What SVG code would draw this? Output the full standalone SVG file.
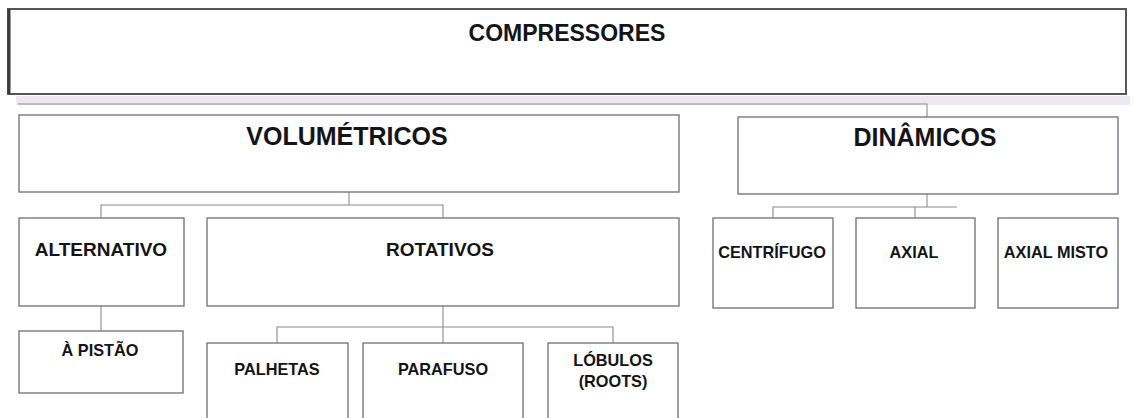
<svg xmlns="http://www.w3.org/2000/svg" width="1133" height="418" viewBox="0 0 1133 418">
  <style>
    .box { fill: #ffffff; stroke: #6e6e78; stroke-width: 1.3; }
    .main { fill: #ffffff; stroke: #55555e; stroke-width: 2; }
    .link { fill: none; stroke: #8a8a96; stroke-width: 1.1; }
    text { font-family: "Liberation Sans", Arial, sans-serif; font-weight: bold; fill: #141418; text-anchor: middle; }
    .t1 { font-size: 23px; }
    .t2 { font-size: 25px; }
    .t3 { font-size: 19px; }
    .t4 { font-size: 16.3px; }
  </style>
  <rect width="1133" height="418" fill="#ffffff"/>

  <!-- light band under the top box -->
  <rect x="16" y="96" width="1114" height="9" fill="#ede9f1"/>

  <g id="connectors">
    <path class="link" d="M18 104 H927 V117"/>
    <path class="link" d="M349 192 V205 M101 218 V205 H443 V218"/>
    <path class="link" d="M101 306 V331"/>
    <path class="link" d="M443 306 V343 M277 343 V327 H613 V343"/>
    <path class="link" d="M927 194 V207 M773 218 V207 H957 M915 207 V218"/>
  </g>

  <g id="compressores">
    <rect class="main" x="8" y="9" width="1118" height="85"/>
    <line x1="9" y1="9" x2="9" y2="94" stroke="#3a3a42" stroke-width="3"/>
    <text class="t1" x="567" y="41">COMPRESSORES</text>
  </g>

  <g id="volumetricos">
    <rect class="box" x="19" y="115" width="660" height="77"/>
    <text class="t2" x="347" y="145">VOLUMÉTRICOS</text>
  </g>

  <g id="dinamicos">
    <rect class="box" x="738" y="117" width="380" height="77"/>
    <text class="t2" x="925" y="146">DINÂMICOS</text>
  </g>

  <g id="alternativo">
    <rect class="box" x="19" y="218" width="165" height="88"/>
    <text class="t3" x="101" y="256">ALTERNATIVO</text>
  </g>

  <g id="rotativos">
    <rect class="box" x="207" y="218" width="472" height="88"/>
    <text class="t3" x="440" y="256">ROTATIVOS</text>
  </g>

  <g id="pistao">
    <rect class="box" x="19" y="331" width="164" height="62"/>
    <text class="t4" x="100" y="356">À PISTÃO</text>
  </g>

  <g id="palhetas">
    <rect class="box" x="207" y="343" width="141" height="80"/>
    <text class="t4" x="277" y="375">PALHETAS</text>
  </g>

  <g id="parafuso">
    <rect class="box" x="363" y="343" width="160" height="80"/>
    <text class="t4" x="443" y="375">PARAFUSO</text>
  </g>

  <g id="lobulos">
    <rect class="box" x="548" y="343" width="130" height="80"/>
    <text class="t4" x="613" y="366">LÓBULOS</text>
    <text class="t4" x="613" y="387">(ROOTS)</text>
  </g>

  <g id="centrifugo">
    <rect class="box" x="713" y="218" width="120" height="90"/>
    <text class="t4" x="772" y="258">CENTRÍFUGO</text>
  </g>

  <g id="axial">
    <rect class="box" x="856" y="218" width="119" height="90"/>
    <text class="t4" x="914" y="258">AXIAL</text>
  </g>

  <g id="axial-misto">
    <rect class="box" x="998" y="218" width="120" height="90"/>
    <text class="t4" x="1056" y="258">AXIAL MISTO</text>
  </g>
</svg>
